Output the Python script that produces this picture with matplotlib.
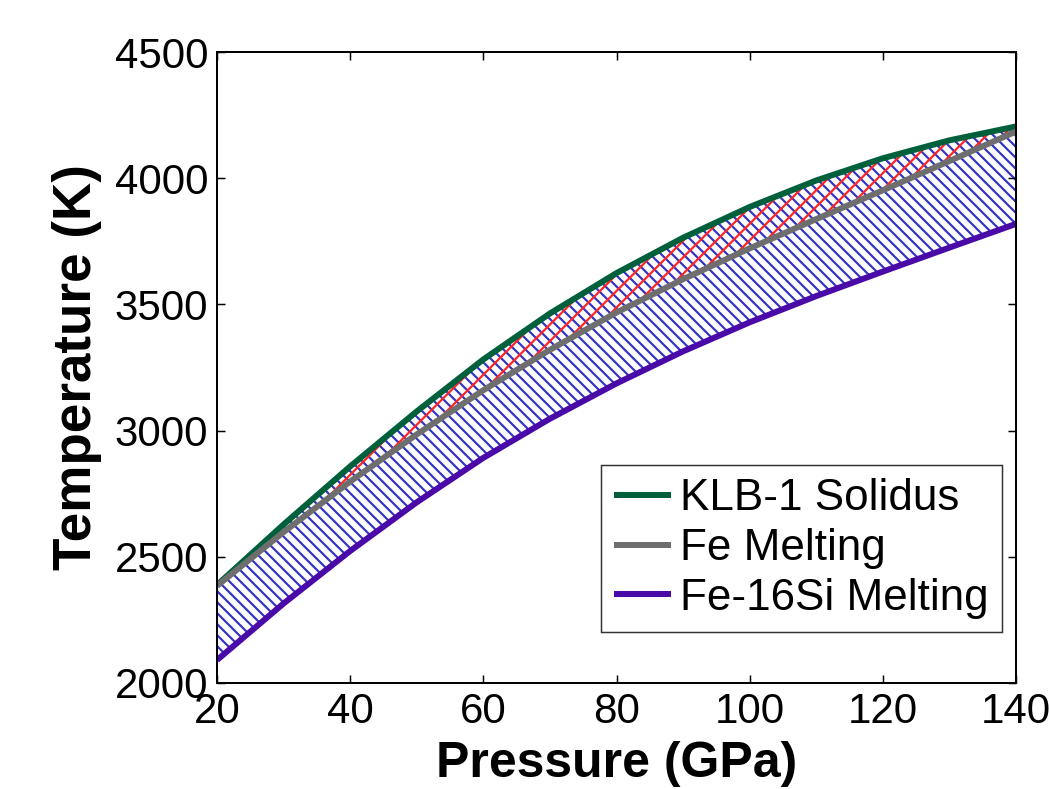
import matplotlib
matplotlib.use("Agg")
import matplotlib.pyplot as plt

# Pressure grid (GPa) and melting / solidus temperatures (K)
pressure = [20, 30, 40, 50, 60, 70, 80, 90, 100, 110, 120, 130, 140]
klb1_solidus = [2388, 2628, 2858, 3076, 3282, 3464, 3624, 3764, 3886, 3991, 4079, 4150, 4205]
fe_melting = [2385, 2598, 2798, 2985, 3160, 3320, 3468, 3600, 3722, 3838, 3952, 4068, 4185]
fe16si_melting = [2091, 2315, 2523, 2716, 2892, 3047, 3187, 3314, 3429, 3533, 3630, 3725, 3819]

series_labels = ["KLB-1 Solidus", "Fe Melting", "Fe-16Si Melting"]
x_ticks = [20, 40, 60, 80, 100, 120, 140]
y_ticks = [2000, 2500, 3000, 3500, 4000, 4500]

DPI = 198
W, H = 1049, 789
PT = 72.0 / DPI  # points per pixel

plt.rcParams["font.family"] = ["Liberation Sans", "DejaVu Sans"]
plt.rcParams["hatch.linewidth"] = 2.2 * PT

fig = plt.figure(figsize=(W / DPI, H / DPI), dpi=DPI)
ax = fig.add_axes([217 / W, 1 - 683 / H, (1016 - 217) / W, (683 - 52) / H])

# hatched bands: whole range between Fe-16Si and the solidus, and
# the part between Fe melting and the solidus
ax.fill_between(pressure, fe16si_melting, klb1_solidus, facecolor="none",
                edgecolor="#3434c4", linewidth=0, hatch="\\" * 6)
ax.fill_between(pressure, fe_melting, klb1_solidus, facecolor="none",
                edgecolor="#ff2424", linewidth=0, hatch="/" * 4)

lw = 6 * PT
ax.plot(pressure, klb1_solidus, color="#00603c", lw=lw, label=series_labels[0],
        solid_capstyle="butt")
ax.plot(pressure, fe_melting, color="#6e6e6e", lw=lw, label=series_labels[1],
        solid_capstyle="butt")
ax.plot(pressure, fe16si_melting, color="#4a0aa8", lw=lw, label=series_labels[2],
        solid_capstyle="butt")

ax.set_xlim(20, 140)
ax.set_ylim(2000, 4500)
ax.set_xticks(x_ticks)
ax.set_yticks(y_ticks)
ax.tick_params(direction="in", top=True, right=True, length=8 * PT,
               width=1.5 * PT, labelsize=42 * PT, pad=9 * PT)
for s in ax.spines.values():
    s.set_linewidth(2 * PT)

ax.set_xlabel("Pressure (GPa)", fontsize=50 * PT, fontweight="bold", labelpad=9 * PT)
ax.set_ylabel("Temperature (K)", fontsize=53 * PT, fontweight="bold", labelpad=12 * PT)

leg = ax.legend(loc="lower right", bbox_to_anchor=(1002 / W, 1 - 632 / H),
                bbox_transform=fig.transFigure, fontsize=44 * PT, frameon=True,
                fancybox=False, edgecolor="black", handlelength=1.3,
                handletextpad=0.2, borderpad=0.3, labelspacing=0.2,
                borderaxespad=0)
leg.get_frame().set_linewidth(1.5 * PT)

fig.savefig("out.png", dpi=DPI, facecolor="white")
